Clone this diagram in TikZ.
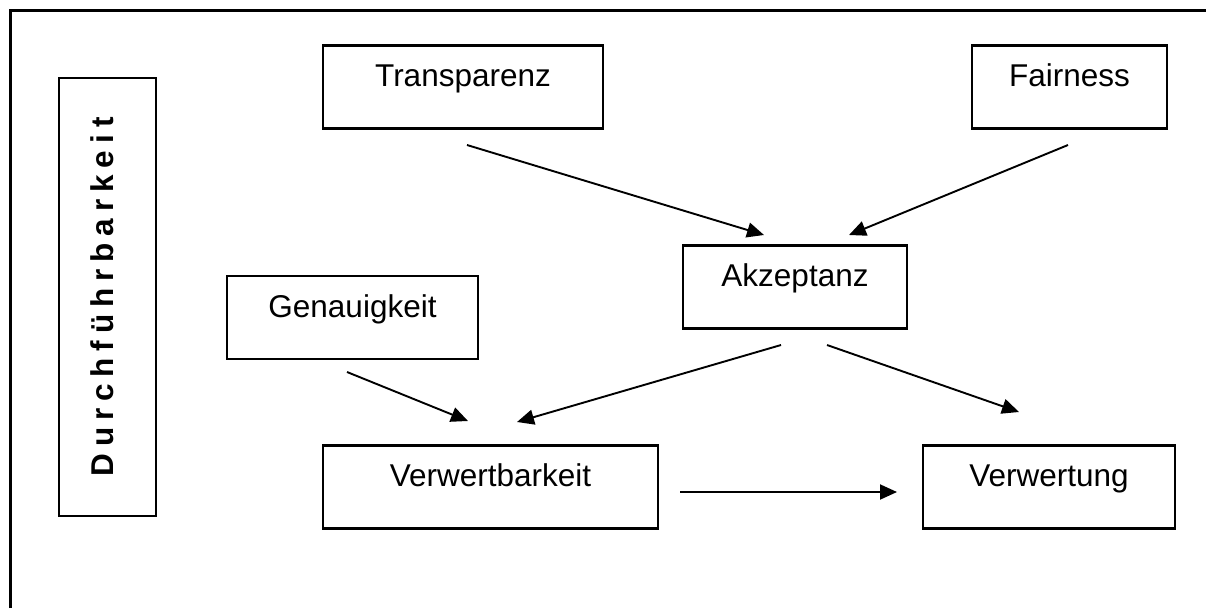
\documentclass[tikz,border=0pt]{standalone}
\usepackage{fontspec}
\setmainfont{Liberation Sans}
\newfontfamily\spacedbold[LetterSpace=21.9,UprightFont={* Bold},BoldFont={* Bold}]{Liberation Sans}
\usetikzlibrary{arrows.meta}
\begin{document}
\begin{tikzpicture}[x=1pt,y=-1pt,
  box/.style={draw, line width=2.2pt, inner xsep=0pt, inner ysep=0pt,
    font=\fontsize{31.5}{36}\selectfont, text height=41pt, text depth=42pt},
  sidebox/.style={draw, line width=2.2pt, inner xsep=0pt, inner ysep=0pt, rotate=90,
    font=\spacedbold\fontsize{31.5}{36}\selectfont,
    minimum width=438pt, text height=54pt, text depth=43pt},
  arr/.style={line width=1.9pt, -{Triangle[length=17pt,width=15pt]}},
  frame/.style={line width=3pt, line join=miter}]
\useasboundingbox (0,0) rectangle (1206,608);
\coordinate (fb) at (10,608);
\coordinate (fc) at (10,10);
\coordinate (fr) at (1206,10);
\draw[frame] (fb) -- (fc) -- (fr);

\node[sidebox] (durch) at (107.5,297) {Durchführbarkeit};

\node[box, minimum width=280pt] (transp) at (463,87) {Transparenz};
\node[box, minimum width=195pt] (fair) at (1069.5,87) {Fairness};
\node[box, minimum width=224pt] (akz) at (795,287) {Akzeptanz};
\node[box, minimum width=251pt] (gen) at (352.5,317.5) {Genauigkeit};
\node[box, minimum width=335pt] (verwb) at (490.5,487) {Verwertbarkeit};
\node[box, minimum width=252pt] (verwt) at (1049,487) {Verwertung};

\coordinate (t1) at (467,145);  \coordinate (t2) at (764,235);
\coordinate (f1) at (1068,145); \coordinate (f2) at (849,235);
\coordinate (g1) at (347,372);  \coordinate (g2) at (468,421);
\coordinate (a1) at (781,345);  \coordinate (a2) at (517,422);
\coordinate (b1) at (827,345);  \coordinate (b2) at (1019,412);
\coordinate (v1) at (680,492);  \coordinate (v2) at (897,492);

\draw[arr] (t1) -- (t2);
\draw[arr] (f1) -- (f2);
\draw[arr] (g1) -- (g2);
\draw[arr] (a1) -- (a2);
\draw[arr] (b1) -- (b2);
\draw[arr] (v1) -- (v2);
\end{tikzpicture}
\end{document}
